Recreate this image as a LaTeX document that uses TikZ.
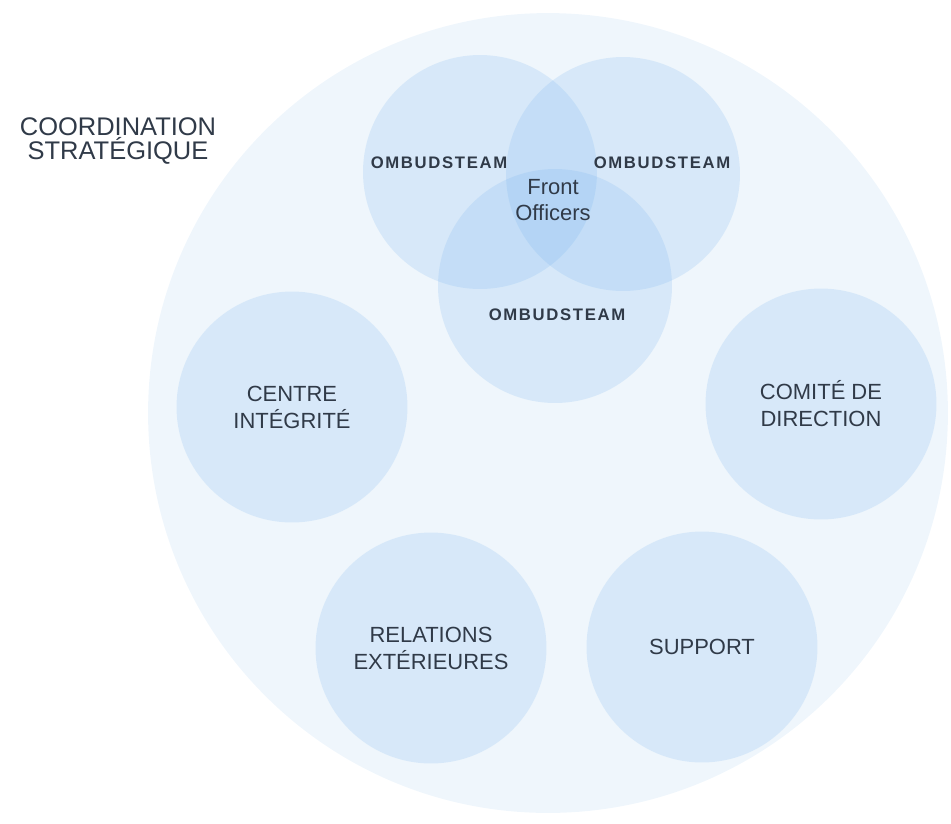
\documentclass[tikz,border=0pt]{standalone}
\usepackage{fontspec}
\setmainfont{Liberation Sans}
\usetikzlibrary{positioning,calc}

\definecolor{haze}{RGB}{239,246,252}
\definecolor{poleblue}{RGB}{120,180,240}
\definecolor{ink}{RGB}{48,58,72}

\begin{document}
\begin{tikzpicture}[x=0.02cm, y=-0.02cm, font=\fontsize{12.5}{15.3}\selectfont,
  pole/.style={circle, fill=poleblue, fill opacity=0.2, text opacity=1,
    text=ink, minimum size=4.62cm, inner sep=0pt, align=center},
  ombud/.style={pole, minimum size=4.68cm},
  tag/.style={text=ink, font=\fontsize{9.5}{12}\selectfont\bfseries\addfontfeature{LetterSpace=10}}]
    \useasboundingbox (0,0) rectangle (951,823);
    % outer circle
    \node[circle, fill=haze, minimum size=16cm, inner sep=0pt] (coord) at (548,413) {};
    \node[text=ink, align=center, font=\fontsize{14.5}{13.8}\selectfont] (coordlbl) at (118,141)
      {COORDINATION\\STRATÉGIQUE};
    %
    % ombudsteam venn
    \node[ombud] (oa) at (480,172) {};
    \node[ombud] (ob) at (623,174) {};
    \node[ombud] (oc) at (555,286) {};
    \node[tag] (oa_lbl) at (439,163) {OMBUDSTEAM};
    \node[tag] (ob_lbl) at (662,163) {OMBUDSTEAM};
    \node[tag] (oc_lbl) at (557,315) {OMBUDSTEAM};
    \node[text=ink, align=center, font=\fontsize{12.5}{14.7}\selectfont] (front) at (553,200) {Front\\Officers};
    %
    % other poles
    \node[pole] (centre) at (292,407) {CENTRE\\INTÉGRITÉ};
    \node[pole] (comite) at (821,404) {COMITÉ DE\\DIRECTION};
    \node[pole] (relext) at (431,648) {RELATIONS\\EXTÉRIEURES};
    \node[pole] (support) at (702,647) {SUPPORT};
\end{tikzpicture}
\end{document}
